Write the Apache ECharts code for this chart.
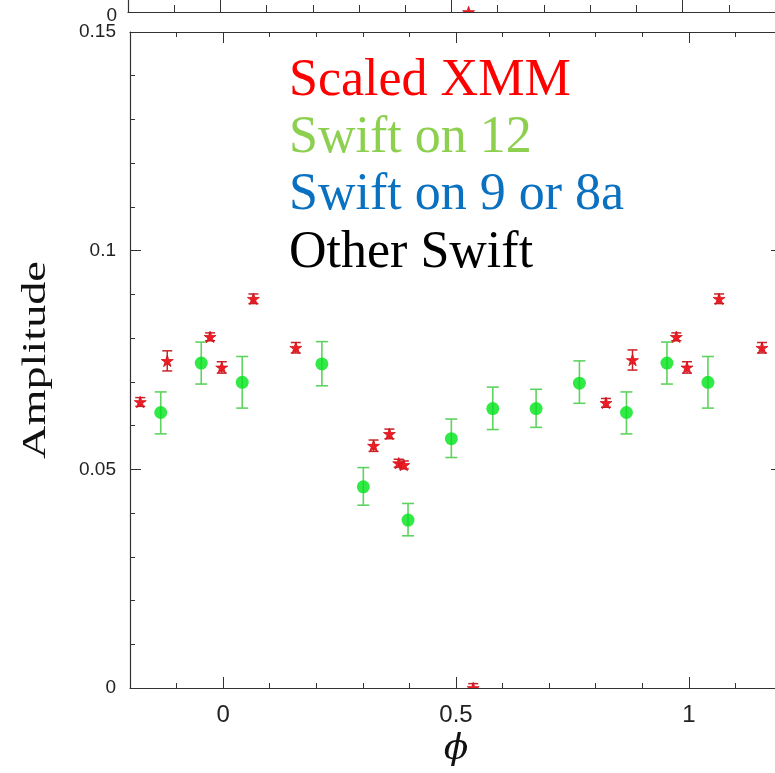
<!DOCTYPE html>
<html>
<head>
<meta charset="utf-8">
<script src="https://cdn.jsdelivr.net/npm/echarts@6/dist/echarts.min.js"></script>
<style>
  html, body { margin: 0; padding: 0; background: #fff; }
  #main { width: 775px; height: 773px; }
</style>
</head>
<body>
<div id="main"></div>
<script>
// Scaled XMM points (red stars), phase / amplitude / half error
var xmmPhase = [-0.178, -0.12, -0.028, -0.003, 0.065, 0.156, 0.323, 0.357, 0.377, 0.388, 0.537,
                0.822, 0.879, 0.973, 0.996, 1.065, 1.157];
var xmmAmp = [0.0654, 0.0748, 0.0803, 0.0733, 0.0890, 0.0778, 0.0554, 0.0581, 0.0514, 0.0510, 0.0,
              0.0652, 0.0750, 0.0803, 0.0733, 0.0890, 0.0778];
var xmmErr = [0.0010, 0.0023, 0.0009, 0.0013, 0.0011, 0.0012, 0.0013, 0.0011, 0.0009, 0.0009, 0.0010,
              0.0010, 0.0023, 0.0009, 0.0013, 0.0011, 0.0012];

// Swift on 12 (green circles)
var swiftPhase = [-0.134, -0.047, 0.041, 0.212, 0.301, 0.397, 0.490, 0.579, 0.672, 0.765, 0.866, 0.953, 1.041];
var swiftAmp = [0.0630, 0.0743, 0.0699, 0.0741, 0.0460, 0.0384, 0.0570, 0.0639, 0.0639, 0.0697, 0.0630, 0.0743, 0.0699];
var swiftLo = [0.0581, 0.0695, 0.0640, 0.0691, 0.0418, 0.0348, 0.0527, 0.0591, 0.0596, 0.0651, 0.0581, 0.0695, 0.0640];
var swiftHi = [0.0677, 0.0791, 0.0758, 0.0792, 0.0504, 0.0422, 0.0615, 0.0688, 0.0683, 0.0748, 0.0677, 0.0791, 0.0758];

// point of the panel above (only its bottom edge is in view)
var topPhase = [0.537];
var topAmp = [0];

// ticks
var xMajor = [0, 0.5, 1];
var yMajor = [0, 0.05, 0.1, 0.15];

var legendNames = ['Scaled XMM', 'Swift on 12', 'Swift on 9 or 8a', 'Other Swift'];
var legendColors = ['#ff0000', '#8dd04f', '#0a70c0', '#000000'];

var STAR = 'M0,-1L0.2245,-0.309L0.951,-0.309L0.363,0.118L0.588,0.809L0,0.382L-0.588,0.809L-0.363,0.118L-0.951,-0.309L-0.2245,-0.309Z';
var lineCol = '#333';
var yLabelFont = { color: '#222', fontFamily: 'Liberation Sans', fontSize: 19 };
var xLabelFont = { color: '#222', fontFamily: 'Liberation Sans', fontSize: 24 };

var myChart = echarts.init(document.getElementById('main'));

function xAx(grid, pos, opts) {
    var a = {
        type: 'value', gridIndex: grid, position: pos, min: -0.2, max: 1.2,
        axisLine: { show: false, onZero: false, lineStyle: { color: lineCol } },
        axisTick: { show: false },
        axisLabel: { show: false },
        splitLine: { show: false }
    };
    return Object.assign(a, opts);
}
function yAx(grid, pos, min, max, opts) {
    var a = {
        type: 'value', gridIndex: grid, position: pos, min: min, max: max,
        axisLine: { show: false, onZero: false, lineStyle: { color: lineCol } },
        axisTick: { show: false },
        axisLabel: { show: false },
        splitLine: { show: false }
    };
    return Object.assign(a, opts);
}
function minorTick(len) {
    return { show: true, inside: true, length: len, lineStyle: { color: lineCol } };
}
function majorTick(len, vals) {
    return { show: true, inside: true, length: len, customValues: vals, lineStyle: { color: lineCol } };
}
var lineOn = { show: true, onZero: false, lineStyle: { color: lineCol, width: 1.2 } };

var xmmData = xmmPhase.map(function (p, i) { return [p, xmmAmp[i], xmmErr[i]]; });
var swiftData = swiftPhase.map(function (p, i) { return [p, swiftAmp[i]]; });
var swiftErrData = swiftPhase.map(function (p, i) { return [p, swiftLo[i], swiftHi[i]]; });
var topData = topPhase.map(function (p, i) { return [p, topAmp[i], 0]; });

function renderStar(params, api) {
    var x = api.value(0), y = api.value(1), e = api.value(2);
    var c = api.coord([x, y]);
    var hi = api.coord([x, y + e]), lo = api.coord([x, y - e]);
    var st = { stroke: '#c8242a', lineWidth: 1.5 };
    var children = [];
    if (e > 0) {
        children.push({ type: 'line', shape: { x1: c[0], y1: hi[1], x2: c[0], y2: lo[1] }, style: st });
        children.push({ type: 'line', shape: { x1: c[0] - 5, y1: hi[1], x2: c[0] + 5, y2: hi[1] }, style: st });
        children.push({ type: 'line', shape: { x1: c[0] - 5, y1: lo[1], x2: c[0] + 5, y2: lo[1] }, style: st });
    }
    children.push({
        type: 'path',
        shape: { pathData: STAR, x: c[0] - 6, y: c[1] - 6, width: 12, height: 12 },
        style: { fill: '#ee1c24', stroke: '#d01018', lineWidth: 0.8 }
    });
    return { type: 'group', children: children };
}

function renderErr(params, api) {
    var x = api.value(0);
    var lo = api.coord([x, api.value(1)]), hi = api.coord([x, api.value(2)]);
    var st = { stroke: '#5fd35f', lineWidth: 1.6 };
    return {
        type: 'group',
        children: [
            { type: 'line', shape: { x1: lo[0], y1: hi[1], x2: lo[0], y2: lo[1] }, style: st },
            { type: 'line', shape: { x1: lo[0] - 6, y1: hi[1], x2: lo[0] + 6, y2: hi[1] }, style: st },
            { type: 'line', shape: { x1: lo[0] - 6, y1: lo[1], x2: lo[0] + 6, y2: lo[1] }, style: st }
        ]
    };
}

var graphics = legendNames.map(function (n, i) {
    return {
        type: 'text', left: 289, top: 55 + i * 57.3,
        style: { text: n, fill: legendColors[i], font: '52px "Liberation Serif"' }
    };
});
graphics.push({
    type: 'text', x: 36, y: 360, rotation: Math.PI / 2, scaleX: 1.36,
    style: { text: 'Amplitude', fill: '#111', font: '34px "Liberation Serif"', align: 'center', verticalAlign: 'middle' }
});
graphics.push({
    type: 'text', x: 456, y: 750,
    style: { text: '\u03d5', fill: '#111', font: 'italic 36px "DejaVu Serif"', align: 'center', verticalAlign: 'middle' }
});

myChart.setOption({
    backgroundColor: '#fff',
    animation: false,
    grid: [
        { left: 130, right: -7, top: 32, bottom: 85, outerBoundsMode: 'none' },
        { left: 128, right: 0, top: -100, height: 112, outerBoundsMode: 'none' }
    ],
    xAxis: [
        xAx(0, 'bottom', { interval: 0.1, axisLine: lineOn, axisTick: minorTick(5),
            axisLabel: Object.assign({ show: true, margin: 15, customValues: xMajor }, xLabelFont) }),
        xAx(0, 'bottom', { axisTick: majorTick(11, xMajor) }),
        xAx(0, 'top', { interval: 0.1, axisLine: lineOn, axisTick: minorTick(5) }),
        xAx(0, 'top', { axisTick: majorTick(11, xMajor) }),
        xAx(1, 'bottom', { interval: 0.1, axisLine: lineOn, axisTick: minorTick(7) }),
        xAx(1, 'bottom', { axisTick: majorTick(12, xMajor) })
    ],
    yAxis: [
        yAx(0, 'left', 0, 0.15, { interval: 0.01, axisLine: lineOn, axisTick: minorTick(5),
            axisLabel: Object.assign({ show: true, margin: 14, customValues: yMajor }, yLabelFont) }),
        yAx(0, 'left', 0, 0.15, { axisTick: majorTick(11, yMajor) }),
        yAx(0, 'right', 0, 0.15, { interval: 0.01, axisLine: lineOn, axisTick: minorTick(5) }),
        yAx(0, 'right', 0, 0.15, { axisTick: majorTick(11, yMajor) }),
        yAx(1, 'left', 0, 1, { interval: 1, axisLine: lineOn,
            axisLabel: Object.assign({ show: true, margin: 11, verticalAlign: 'top', lineHeight: 7 }, yLabelFont) })
    ],
    series: [
        {
            name: 'Swift on 12 err', type: 'custom', xAxisIndex: 0, yAxisIndex: 0,
            renderItem: renderErr, data: swiftErrData, clip: true, z: 2
        },
        {
            name: 'Swift on 12', type: 'scatter', xAxisIndex: 0, yAxisIndex: 0,
            symbol: 'circle', symbolSize: 13, itemStyle: { color: '#00e31a' },
            data: swiftData, z: 3
        },
        {
            name: 'Scaled XMM', type: 'custom', xAxisIndex: 0, yAxisIndex: 0,
            renderItem: renderStar, data: xmmData, clip: true, z: 4
        },
        {
            name: 'Scaled XMM top', type: 'custom', xAxisIndex: 4, yAxisIndex: 4,
            renderItem: renderStar, data: topData, clip: true, z: 4
        }
    ],
    graphic: graphics
});
</script>
</body>
</html>
